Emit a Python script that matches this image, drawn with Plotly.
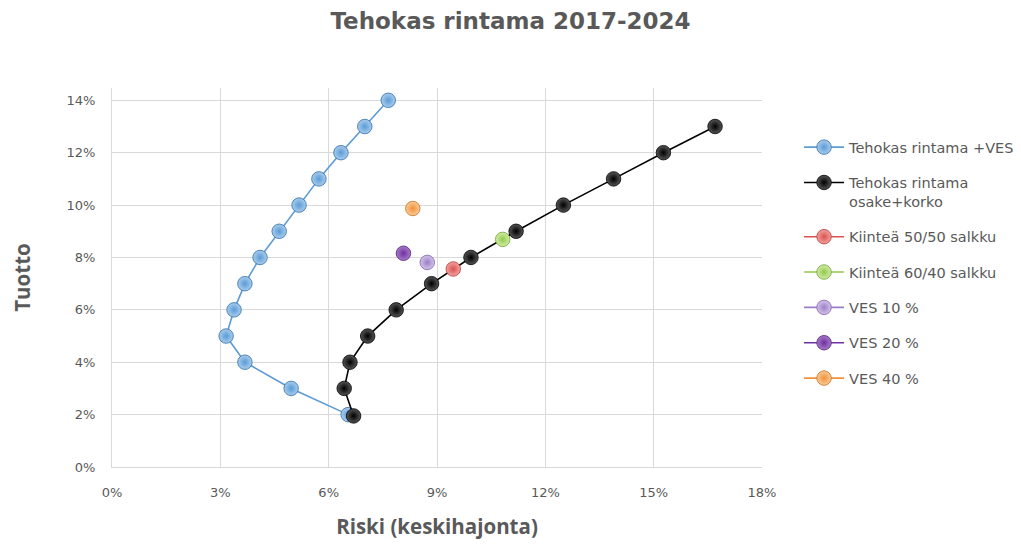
import plotly.graph_objects as go

# Data (percent units): risk (std dev) and return
ves_frontier_risk = [7.65, 7.0, 6.34, 5.73, 5.18, 4.63, 4.1, 3.68, 3.38, 3.16, 3.68, 4.96, 6.54]
ves_frontier_ret = [14, 13, 12, 11, 10, 9, 8, 7, 6, 5, 4, 3, 2]

stock_bond_risk = [16.7, 15.27, 13.89, 12.5, 11.19, 9.94, 8.85, 7.87, 7.08, 6.59, 6.43, 6.69]
stock_bond_ret = [13, 12, 11, 10, 9, 8, 7, 6, 5, 4, 3, 1.95]

fixed_5050_risk = [9.45]
fixed_5050_ret = [7.56]
fixed_6040_risk = [10.82]
fixed_6040_ret = [8.69]
ves10_risk = [8.73]
ves10_ret = [7.81]
ves20_risk = [8.07]
ves20_ret = [8.16]
ves40_risk = [8.33]
ves40_ret = [9.87]

series = [
    ("Tehokas rintama +VES", ves_frontier_risk, ves_frontier_ret, "#5B9BD5", "#A9CDEE", "#2E6DA4"),
    ("Tehokas rintama<br>osake+korko", stock_bond_risk, stock_bond_ret, "#000000", "#555555", "#000000"),
    ("Kiinteä 50/50 salkku", fixed_5050_risk, fixed_5050_ret, "#D9534F", "#F2A3A0", "#B03A36"),
    ("Kiinteä 60/40 salkku", fixed_6040_risk, fixed_6040_ret, "#92C94B", "#D2EDA8", "#6E9E2E"),
    ("VES 10 %", ves10_risk, ves10_ret, "#9B7FC6", "#D3C4EA", "#7A5EA8"),
    ("VES 20 %", ves20_risk, ves20_ret, "#7030A0", "#A77BCB", "#4F1F75"),
    ("VES 40 %", ves40_risk, ves40_ret, "#F0923B", "#FBCB98", "#C46E1E"),
]

fig = go.Figure()
for i, (name, xs, ys, col, light, dark) in enumerate(series):
    fig.add_trace(go.Scatter(
        x=xs, y=ys, name=name, mode="lines+markers",
        legendgroup=f"g{i}",
        line=dict(color=col, width=1.6),
        marker=dict(size=14.5, color=light,
                    gradient=dict(type="radial", color=col),
                    line=dict(color=dark, width=0.8)),
    ))

grid = "#D9D9D9"
tickfont = dict(family="DejaVu Sans, sans-serif", size=13, color="#595959")
axtitlefont = dict(family="Open Sans, sans-serif", size=20.5, color="#595959")
fig.update_layout(
    width=1021, height=548,
    margin=dict(l=112, r=259, t=88, b=81, autoexpand=False),
    paper_bgcolor="white", plot_bgcolor="white",
    font=dict(family="DejaVu Sans, sans-serif", color="#595959", size=13),
    title=dict(text="<b>Tehokas rintama 2017-2024</b>", x=0.5, xref="container",
               y=1 - 21 / 548, yref="container", xanchor="center", yanchor="middle",
               font=dict(family="DejaVu Sans, sans-serif", size=23, color="#595959")),
    xaxis=dict(range=[0, 18], dtick=3, tick0=0, ticksuffix="%",
               showgrid=True, gridcolor=grid, gridwidth=1,
               showline=True, linecolor=grid, zeroline=False,
               ticks="", tickfont=tickfont, ticklabelstandoff=13,
               title=dict(text="<b>Riski (keskihajonta)</b>", standoff=21,
                          font=axtitlefont)),
    yaxis=dict(range=[0, 14.47], dtick=2, tick0=0, ticksuffix="%",
               showgrid=True, gridcolor=grid, gridwidth=1,
               showline=True, linecolor=grid, zeroline=False,
               ticks="", tickfont=tickfont, ticklabelstandoff=13,
               title=dict(text="<b>Tuotto</b>", standoff=30,
                          font=axtitlefont)),
    legend=dict(x=1.057, xanchor="left", y=0.886, yanchor="top",
                bgcolor="rgba(0,0,0,0)", valign="top",
                font=dict(family="DejaVu Sans, sans-serif", size=14.5, color="#595959"),
                itemwidth=40, tracegroupgap=13.5),
    showlegend=True,
)

fig.write_html("out.html")
